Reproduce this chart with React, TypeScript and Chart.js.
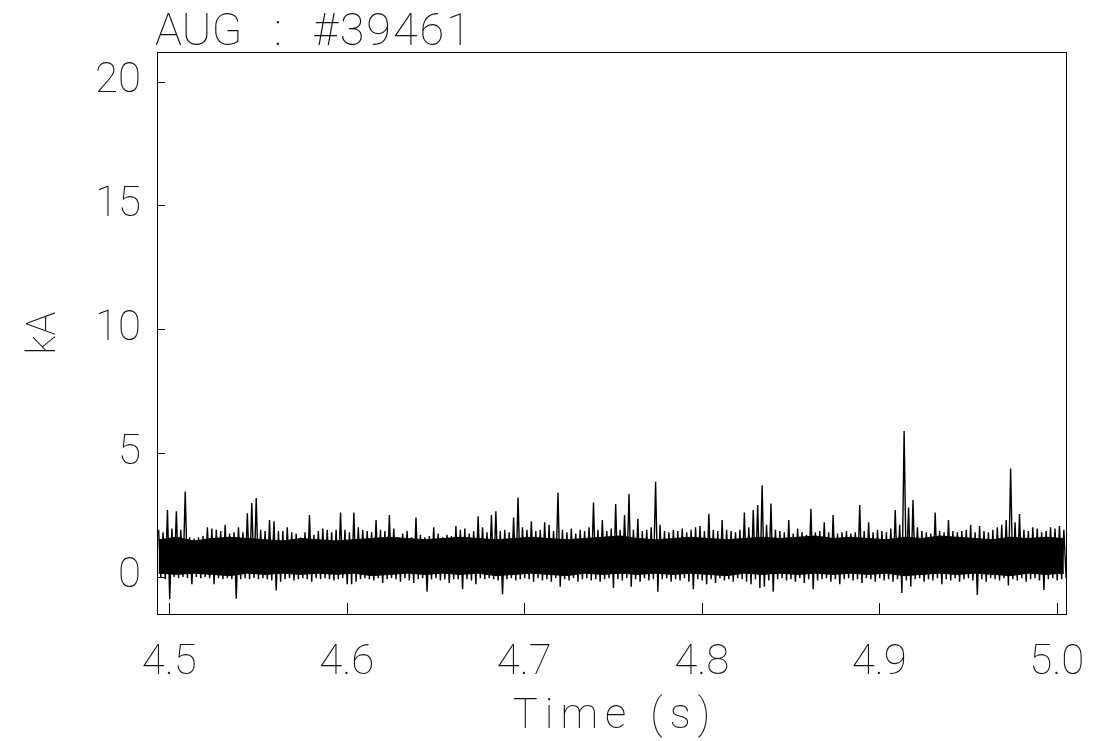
import React, { useEffect, useRef } from "react";
import { Chart, registerables } from "chart.js";

Chart.register(...registerables);

// ---- labels and axes ----
const SHOT_TITLE = ["AUG", ":", "#39461"];
const X_LABEL = "Time (s)";
const Y_LABEL = "kA";
const X_TICKS = [4.5, 4.6, 4.7, 4.8, 4.9, 5.0];
const Y_TICKS = [0, 5, 10, 15, 20];
const X_MIN = 4.4931;
const X_MAX = 5.0052;
const Y_MIN = -1.5;
const Y_MAX = 21.2;

// ---- coil current envelope, one max/min pair per 2.5 ms bin starting at 4.494 s ----
const T0 = 4.494;
const DT = 0.0025;
const SIGNAL_HI = [
  1.9, 1.8, 2.7, 1.95, 2.65, 1.9, 3.45, 1.6, 1.55, 1.6,
  1.65, 2.0, 1.95, 1.9, 1.85, 2.1, 1.75, 1.8, 2.0, 1.8,
  2.57, 2.98, 3.18, 1.9, 1.85, 2.3, 2.25, 1.85, 1.85, 2.0,
  1.8, 1.75, 1.6, 1.8, 2.5, 1.7, 1.85, 1.95, 1.9, 1.8,
  1.9, 2.6, 1.9, 1.8, 2.6, 2.0, 1.9, 1.85, 1.8, 2.3,
  1.9, 1.85, 2.5, 1.95, 1.6, 1.75, 1.85, 1.6, 2.4, 1.7,
  1.6, 1.65, 2.0, 1.75, 1.6, 1.7, 1.65, 2.05, 1.9, 1.95,
  1.75, 1.85, 2.45, 2.0, 1.8, 2.5, 2.65, 1.85, 1.9, 1.8,
  2.4, 3.2, 2.0, 1.9, 2.25, 1.85, 1.9, 2.2, 2.1, 1.85,
  3.4, 1.9, 1.8, 1.95, 1.75, 1.9, 1.85, 2.0, 3.0, 1.9,
  2.3, 1.85, 1.95, 2.94, 1.9, 2.5, 3.35, 1.9, 2.35, 1.85,
  1.9, 2.0, 3.84, 2.1, 1.85, 1.8, 1.9, 1.85, 1.95, 1.8,
  1.9, 2.0, 2.05, 1.85, 2.55, 1.9, 1.85, 2.3, 1.9, 1.85,
  1.8, 1.9, 2.6, 2.0, 2.7, 2.9, 3.7, 2.1, 2.96, 1.9,
  1.85, 1.8, 2.3, 1.75, 1.95, 1.8, 1.7, 2.75, 1.8, 1.85,
  2.2, 1.8, 2.5, 1.75, 1.8, 1.85, 1.75, 1.8, 2.9, 1.85,
  2.2, 1.8, 1.9, 1.85, 1.8, 1.95, 2.7, 2.1, 5.89, 2.8,
  3.1, 2.0, 1.85, 1.8, 1.75, 2.6, 1.85, 1.8, 2.3, 1.85,
  1.8, 1.85, 1.9, 2.1, 1.8, 2.05, 1.85, 1.8, 1.9, 2.0,
  2.1, 2.3, 4.38, 2.2, 2.54, 1.9, 1.85, 2.0, 1.95, 1.8,
  1.85, 2.0, 1.95, 2.05, 1.9,
];
const SIGNAL_LO = [
  0.0, -0.1, -0.9, 0.0, -0.05, 0.0, -0.05, -0.3, 0.0, -0.05,
  0.0, -0.05, -0.3, -0.05, -0.1, -0.05, -0.1, -0.88, -0.1, -0.05,
  -0.1, -0.05, -0.1, -0.05, -0.1, -0.15, -0.55, -0.2, -0.1, -0.05,
  -0.15, -0.1, -0.05, -0.1, -0.2, -0.05, -0.1, -0.05, -0.1, -0.15,
  -0.1, -0.05, -0.3, -0.3, -0.2, -0.1, -0.05, -0.1, -0.15, -0.05,
  -0.25, -0.1, -0.05, -0.1, -0.2, -0.05, -0.15, -0.25, -0.1, -0.05,
  -0.6, -0.1, -0.05, -0.15, -0.1, -0.25, -0.1, -0.1, -0.5, -0.1,
  -0.15, -0.3, -0.05, -0.1, -0.05, -0.1, -0.15, -0.7, -0.1, -0.05,
  -0.15, -0.1, -0.05, -0.1, -0.2, -0.05, -0.15, -0.1, -0.2, -0.05,
  -0.4, -0.1, -0.15, -0.05, -0.2, -0.1, -0.05, -0.15, -0.1, -0.2,
  -0.1, -0.05, -0.45, -0.1, -0.15, -0.05, -0.4, -0.1, -0.2, -0.05,
  -0.15, -0.1, -0.6, -0.1, -0.05, -0.2, -0.1, -0.15, -0.05, -0.2,
  -0.5, -0.1, -0.15, -0.3, -0.1, -0.25, -0.05, -0.15, -0.1, -0.2,
  -0.05, -0.1, -0.2, -0.3, -0.1, -0.45, -0.4, -0.15, -0.6, -0.1,
  -0.05, -0.15, -0.1, -0.2, -0.05, -0.25, -0.1, -0.5, -0.15, -0.1,
  -0.05, -0.2, -0.1, -0.3, -0.1, -0.05, -0.15, -0.1, -0.25, -0.05,
  -0.1, -0.2, -0.05, -0.15, -0.1, -0.2, -0.1, -0.65, -0.15, -0.4,
  -0.1, -0.05, -0.2, -0.1, -0.15, -0.05, -0.3, -0.1, -0.15, -0.05,
  -0.2, -0.1, -0.05, -0.15, -0.73, -0.1, -0.2, -0.05, -0.1, -0.15,
  -0.05, -0.35, -0.1, -0.15, -0.05, -0.2, -0.1, -0.05, -0.15, -0.53,
  -0.1, -0.05, -0.15, -0.1, -0.05,
];

// ---- dense core of the trace, upper/lower edge every 10 ms ----
const CORE_DT = 0.01;
const CORE_HI = [
  1.5, 1.6, 1.45, 1.55, 1.6, 1.55, 1.5, 1.45, 1.55, 1.5,
  1.45, 1.5, 1.55, 1.6, 1.55, 1.5, 1.55, 1.6, 1.55, 1.5,
  1.55, 1.6, 1.55, 1.5, 1.55, 1.6, 1.65, 1.55, 1.5, 1.55,
  1.6, 1.55, 1.5, 1.55, 1.6, 1.55, 1.6, 1.65, 1.55, 1.6,
  1.55, 1.5, 1.6, 1.55, 1.65, 1.6, 1.55, 1.5, 1.6, 1.55,
  1.6, 1.55,
];
const CORE_LO = [
  0.15, 0.1, 0.15, 0.1, 0.05, 0.15, 0.1, 0.15, 0.1, 0.15,
  0.1, 0.15, 0.05, 0.1, 0.15, 0.1, 0.15, 0.1, 0.15, 0.05,
  0.1, 0.15, 0.1, 0.05, 0.15, 0.1, 0.15, 0.1, 0.15, 0.1,
  0.15, 0.1, 0.05, 0.15, 0.1, 0.15, 0.1, 0.15, 0.1, 0.15,
  0.1, 0.15, 0.05, 0.1, 0.15, 0.1, 0.15, 0.1, 0.05, 0.15,
  0.1, 0.15,
];

const FONT_FAMILY = "Roboto";
const FONT_WEIGHT = "100";
const INK = "#111";

// zigzag between each bin's max and min so the trace reads as a dense band
function signalPoints() {
  const pts: { x: number; y: number }[] = [];
  SIGNAL_HI.forEach((hi, i) => {
    const t = T0 + i * DT;
    pts.push({ x: t, y: hi });
    pts.push({ x: t + DT / 2, y: SIGNAL_LO[i] });
  });
  return pts;
}

function corePoints(values: number[]) {
  return values.map((v, j) => ({ x: T0 + j * CORE_DT, y: v }));
}

const framePlugin = {
  id: "idlFrame",
  afterDatasetsDraw(chart: any) {
    const { ctx, chartArea: a, scales } = chart;
    ctx.save();
    ctx.strokeStyle = "#000";
    ctx.lineWidth = 1;
    ctx.strokeRect(a.left + 0.5, a.top + 0.5, a.right - a.left, a.bottom - a.top);
    ctx.beginPath();
    for (const v of X_TICKS) {
      const x = Math.round(scales.x.getPixelForValue(v)) + 0.5;
      ctx.moveTo(x, a.bottom);
      ctx.lineTo(x, a.bottom - 11);
    }
    for (const v of Y_TICKS) {
      const y = Math.round(scales.y.getPixelForValue(v)) + 0.5;
      ctx.moveTo(a.left, y);
      ctx.lineTo(a.left + 8, y);
    }
    ctx.stroke();

    ctx.fillStyle = INK;
    // title above the frame
    ctx.font = `${FONT_WEIGHT} 45px ${FONT_FAMILY}`;
    ctx.textBaseline = "alphabetic";
    ctx.textAlign = "left";
    ctx.fillText(SHOT_TITLE[0], a.left - 2, a.top - 7);
    ctx.textAlign = "center";
    ctx.fillText(SHOT_TITLE[1], a.left + 121, a.top - 7);
    ctx.textAlign = "left";
    (ctx as any).letterSpacing = "2px";
    ctx.fillText(SHOT_TITLE[2], a.left + 156, a.top - 7);

    // x axis title
    ctx.font = `${FONT_WEIGHT} 42px ${FONT_FAMILY}`;
    (ctx as any).letterSpacing = "7px";
    const w = ctx.measureText(X_LABEL).width - 7;
    ctx.fillText(X_LABEL, (a.left + a.right) / 2 - w / 2, 728);

    // y axis title
    (ctx as any).letterSpacing = "0px";
    ctx.translate(55, (a.top + a.bottom) / 2 - 0);
    ctx.rotate(-Math.PI / 2);
    ctx.font = `${FONT_WEIGHT} 40px ${FONT_FAMILY}`;
    ctx.textAlign = "center";
    ctx.fillText(Y_LABEL, 0, 0);
    ctx.restore();
  },
};

export default function App() {
  const ref = useRef<HTMLCanvasElement | null>(null);

  useEffect(() => {
    document.body.style.margin = "0";
    const canvas = ref.current;
    if (!canvas) return;
    const tickFont = { family: FONT_FAMILY, size: 42, weight: FONT_WEIGHT as any };
    const chart = new Chart(canvas, {
      type: "line",
      data: {
        datasets: [
          {
            label: "signal",
            data: signalPoints(),
            borderColor: "#000",
            borderWidth: 1.4,
            pointRadius: 0,
            fill: false,
            tension: 0,
          },
          {
            label: "core upper",
            data: corePoints(CORE_HI),
            borderColor: "#000",
            borderWidth: 1,
            backgroundColor: "#000",
            pointRadius: 0,
            fill: "+1",
            tension: 0,
          },
          {
            label: "core lower",
            data: corePoints(CORE_LO),
            borderColor: "#000",
            borderWidth: 1,
            pointRadius: 0,
            fill: false,
            tension: 0,
          },
        ],
      },
      options: {
        responsive: false,
        animation: false,
        events: [],
        parsing: false as any,
        layout: { padding: { top: 52, right: 46, left: 0, bottom: 0 } },
        plugins: {
          legend: { display: false },
          title: { display: false },
          tooltip: { enabled: false },
        },
        scales: {
          x: {
            type: "linear",
            min: X_MIN,
            max: X_MAX,
            afterBuildTicks: (s: any) => {
              s.ticks = X_TICKS.map((value) => ({ value }));
            },
            afterFit: (s: any) => {
              s.height = 127;
            },
            grid: { display: false, drawTicks: false },
            border: { display: false },
            ticks: {
              autoSkip: false,
              maxRotation: 0,
              minRotation: 0,
              padding: 24,
              color: INK,
              font: tickFont,
              callback: (v: any) => Number(v).toFixed(1),
            },
          },
          y: {
            type: "linear",
            min: Y_MIN,
            max: Y_MAX,
            afterBuildTicks: (s: any) => {
              s.ticks = Y_TICKS.map((value) => ({ value }));
            },
            afterFit: (s: any) => {
              s.width = 157;
            },
            grid: { display: false, drawTicks: false },
            border: { display: false },
            ticks: {
              padding: 16,
              color: INK,
              font: tickFont,
              callback: (v: any) => String(v),
            },
          },
        },
      },
      plugins: [framePlugin],
    });
    return () => chart.destroy();
  }, []);

  return (
    <div style={{ width: 1112, height: 741, background: "#fff" }}>
      <canvas ref={ref} width={1112} height={741} style={{ display: "block" }} />
    </div>
  );
}
